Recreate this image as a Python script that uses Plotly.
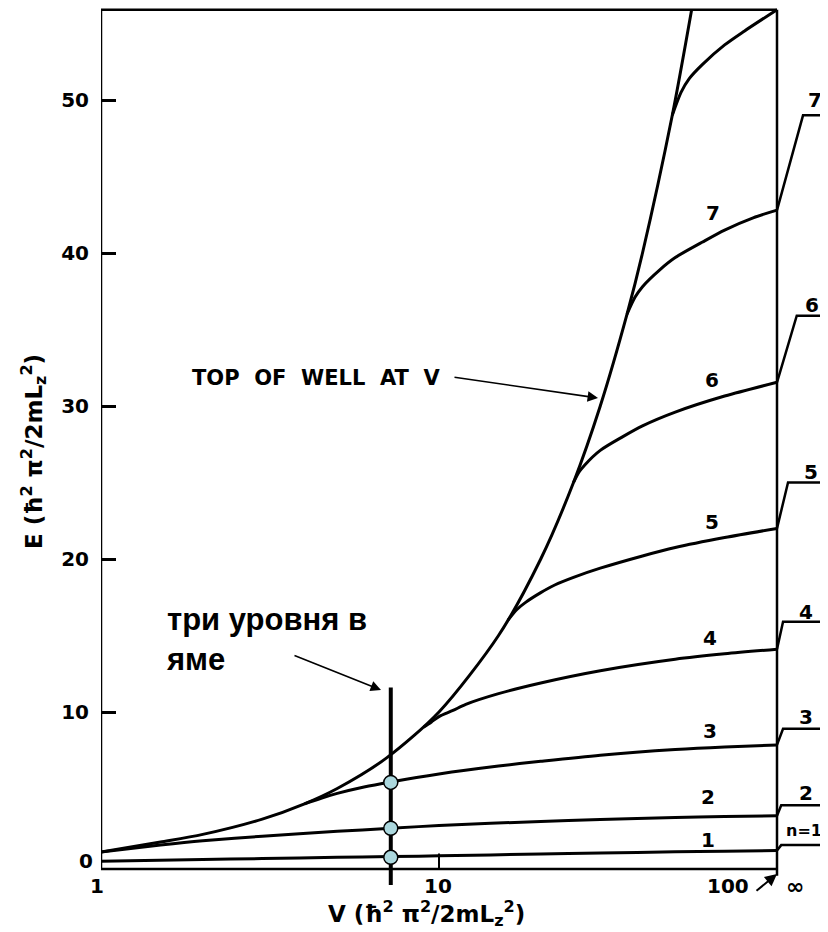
import plotly.graph_objects as go

# ---------------- data ----------------
well_V = [1, 1.5, 2, 3, 4, 5, 7, 10, 15, 20, 25, 30, 36, 40, 49, 55.9]
well_E = [0.85, 1.5, 2, 3, 4, 5, 7, 10, 15, 20, 25, 30, 36, 40, 49, 55.9]

n1_V = [1, 2, 3, 5, 7.2, 10, 20, 30, 50, 70, 100]
n1_E = [0.25, 0.36, 0.42, 0.5, 0.55, 0.6, 0.72, 0.78, 0.86, 0.9, 0.95]
n2_V = [1, 1.5, 2, 3, 5, 7.2, 10, 20, 30, 50, 70, 100]
n2_E = [0.85, 1.3, 1.58, 1.88, 2.2, 2.4, 2.58, 2.85, 2.98, 3.1, 3.17, 3.22]
n3_V = [4, 4.5, 5, 6, 7.2, 10, 15, 20, 30, 50, 70, 100]
n3_E = [4.0, 4.38, 4.68, 5.1, 5.43, 5.95, 6.47, 6.78, 7.18, 7.55, 7.72, 7.85]
n4_V = [9, 9.5, 10, 11, 12, 15, 20, 30, 50, 70, 100]
n4_E = [9.0, 9.35, 9.7, 10.1, 10.5, 11.2, 11.9, 12.7, 13.45, 13.8, 14.1]
n5_V = [16, 17, 18, 20, 22, 25, 30, 40, 50, 70, 100]
n5_E = [16.0, 16.7, 17.15, 17.8, 18.3, 18.8, 19.4, 20.2, 20.75, 21.4, 22.0]
n6_V = [25, 26, 27, 30, 35, 40, 50, 70, 100]
n6_E = [25.0, 25.7, 26.15, 27.1, 28.0, 28.7, 29.6, 30.65, 31.55]
n7_V = [36, 38, 40, 45, 50, 60, 70, 85, 100]
n7_E = [36.0, 37.1, 37.8, 38.9, 39.7, 40.7, 41.5, 42.3, 42.8]
n8_V = [49, 52, 55, 60, 70, 80, 100]
n8_E = [49.0, 50.5, 51.4, 52.3, 53.6, 54.5, 55.9]

# levels of the infinite well (drawn right of the V=100 line)
inf_labels = ["n=1", "2", "3", "4", "5", "6", "7"]
inf_E = [1.3, 3.9, 8.9, 15.9, 25.0, 35.9, 49.0]
end100_E = [0.95, 3.22, 7.85, 14.1, 22.0, 31.55, 42.8]
knee_V = [102.9, 102.9, 104.2, 104.2, 107.8, 114.4, 119.4]
tail_V = 138.7

# marked well depth with three levels
probe_V = 7.2
probe_E = [0.5, 2.4, 5.4]
probe_line_E = [-1.3, 11.6]

# frame
V_min, V_max = 1, 100
E_bottom, E_top = -0.26, 55.9

y_ticks = [10, 20, 30, 40, 50]

# ---------------- geometry helpers (reference-image pixels) ----------------
PX_PER_DEC = 338.0
X0_PX = 101.0
PX_PER_E = 15.3
Y0_PX = 865.0
BODY = 8            # page margin of the html body

PLOT_L, PLOT_R, PLOT_T, PLOT_B = 101, 828, 8, 900
W, H = 828 - BODY, 932 - BODY
ML, MR, MT, MB = PLOT_L - BODY, 0, PLOT_T - BODY, 932 - PLOT_B


def lx(px):
    return (px - X0_PX) / PX_PER_DEC


def ey(py):
    return (Y0_PX - py) / PX_PER_E


def xp(px):
    return (px - PLOT_L) / (PLOT_R - PLOT_L)


def yp(py):
    return (PLOT_B - py) / (PLOT_B - PLOT_T)


BLACK = "black"
FONT_NUM = "DejaVu Sans"

fig = go.Figure()

frame = dict(color=BLACK, width=2.5)
fig.add_trace(go.Scatter(x=[V_min, V_max], y=[E_bottom, E_bottom], mode="lines", line=frame, hoverinfo="skip"))
fig.add_trace(go.Scatter(x=[V_min, V_max], y=[E_top, E_top], mode="lines", line=frame, hoverinfo="skip"))
fig.add_trace(go.Scatter(x=[V_min, V_min], y=[E_bottom, E_top], mode="lines", line=frame, hoverinfo="skip"))
fig.add_trace(go.Scatter(x=[V_max, V_max], y=[-0.7, E_top], mode="lines", line=frame, hoverinfo="skip"))
fig.add_trace(go.Scatter(x=[10, 10], y=[E_bottom, 0.75], mode="lines",
                         line=dict(color=BLACK, width=2), hoverinfo="skip"))

curve = dict(color=BLACK, width=3, shape="spline", smoothing=0.8)
fig.add_trace(go.Scatter(x=well_V, y=well_E, mode="lines", line=curve, hoverinfo="skip"))
for Vs, Es in [(n1_V, n1_E), (n2_V, n2_E), (n3_V, n3_E), (n4_V, n4_E),
               (n5_V, n5_E), (n6_V, n6_E), (n7_V, n7_E), (n8_V, n8_E)]:
    fig.add_trace(go.Scatter(x=Vs, y=Es, mode="lines", line=curve, hoverinfo="skip"))

for e100, kv, einf in zip(end100_E, knee_V, inf_E):
    fig.add_trace(go.Scatter(x=[V_max, kv, tail_V], y=[e100, einf, einf], mode="lines",
                             line=dict(color=BLACK, width=2.5), hoverinfo="skip"))

fig.add_trace(go.Scatter(x=[probe_V, probe_V], y=probe_line_E, mode="lines",
                         line=dict(color=BLACK, width=4), hoverinfo="skip"))
fig.add_trace(go.Scatter(x=[probe_V] * len(probe_E), y=probe_E, mode="markers",
                         marker=dict(size=14, color="#acd8de", line=dict(color=BLACK, width=1.5)),
                         hoverinfo="skip"))

ann = []
num_font = dict(family=FONT_NUM, size=20, color=BLACK)


def text(t, px, py, font=num_font, xa="center", ya="middle", **kw):
    ann.append(dict(xref="paper", yref="paper", x=xp(px), y=yp(py), text=t, showarrow=False,
                    font=font, xanchor=xa, yanchor=ya, **kw))


def arrow(hx, hy, tx, ty, width=1.6, size=1.3):
    ann.append(dict(xref="paper", yref="paper", x=xp(hx), y=yp(hy), ax=tx - hx, ay=ty - hy,
                    axref="pixel", ayref="pixel", text="", showarrow=True, arrowhead=2,
                    arrowsize=size, arrowwidth=width, arrowcolor=BLACK, standoff=0))


# level labels on the curves
for t, px, py in [("1", 708, 840), ("2", 708, 797), ("3", 710, 731), ("4", 710, 638),
                  ("5", 712, 522), ("6", 712, 380), ("7", 713, 213)]:
    text("<b>%s</b>" % t, px, py)

# labels of the infinite-well levels
for t, (px, py) in zip(inf_labels, [(804, 830), (806, 793), (806, 717), (806, 612),
                                     (811, 472), (812, 305), (815, 100)]):
    f = num_font if t != "n=1" else dict(family=FONT_NUM, size=16, color=BLACK)
    text("<b>%s</b>" % t, px, py, font=f)

# x tick labels
for t, px in [("1", 97), ("10", 438), ("100", 728)]:
    text("<b>%s</b>" % t, px, 886)
text("<b>∞</b>", 795, 886, font=dict(family=FONT_NUM, size=22, color=BLACK))
arrow(777, 874, 755, 892, width=2, size=1.2)
# y zero label
text("<b>0</b>", 95, 861, xa="right")

# axis titles
text("<b>V (ħ<sup>2</sup> π<sup>2</sup>/2mL<sub>z</sub><sup>2</sup>)</b>", 426, 914,
     font=dict(family=FONT_NUM, size=23, color=BLACK))
text("<b>E (ħ<sup>2</sup> π<sup>2</sup>/2mL<sub>z</sub><sup>2</sup>)</b>", 33, 452,
     font=dict(family=FONT_NUM, size=23, color=BLACK), textangle=-90)

# TOP OF WELL annotation
nb = "\u00a0"
text("<b>TOP" + nb * 2 + "OF" + nb * 2 + "WELL" + nb * 2 + "AT" + nb * 2 + "V</b>", 442, 378,
     font=dict(family=FONT_NUM, size=21, color=BLACK), xa="right")
arrow(598, 398, 453, 377)

# Russian annotation
text("<b>три уровня в<br>яме</b>", 164, 600, font=dict(family="Liberation Sans", size=31, color=BLACK),
     xa="left", ya="top", align="left")
arrow(381, 690, 293, 655)

fig.update_layout(
    width=W, height=H,
    margin=dict(l=ML, r=MR, t=MT, b=MB, pad=0),
    paper_bgcolor="white", plot_bgcolor="white",
    showlegend=False,
    annotations=ann,
    xaxis=dict(type="log", range=[lx(PLOT_L), lx(PLOT_R)], visible=False, fixedrange=True),
    yaxis=dict(range=[ey(PLOT_B), ey(PLOT_T)], showgrid=False, zeroline=False, showline=False,
               ticks="inside", ticklen=15, tickwidth=2.5, tickcolor=BLACK,
               tickvals=y_ticks, ticktext=["<b>%d</b>" % v for v in y_ticks],
               tickfont=num_font, ticklabelstandoff=11, fixedrange=True),
)

fig.write_html("out.html")
